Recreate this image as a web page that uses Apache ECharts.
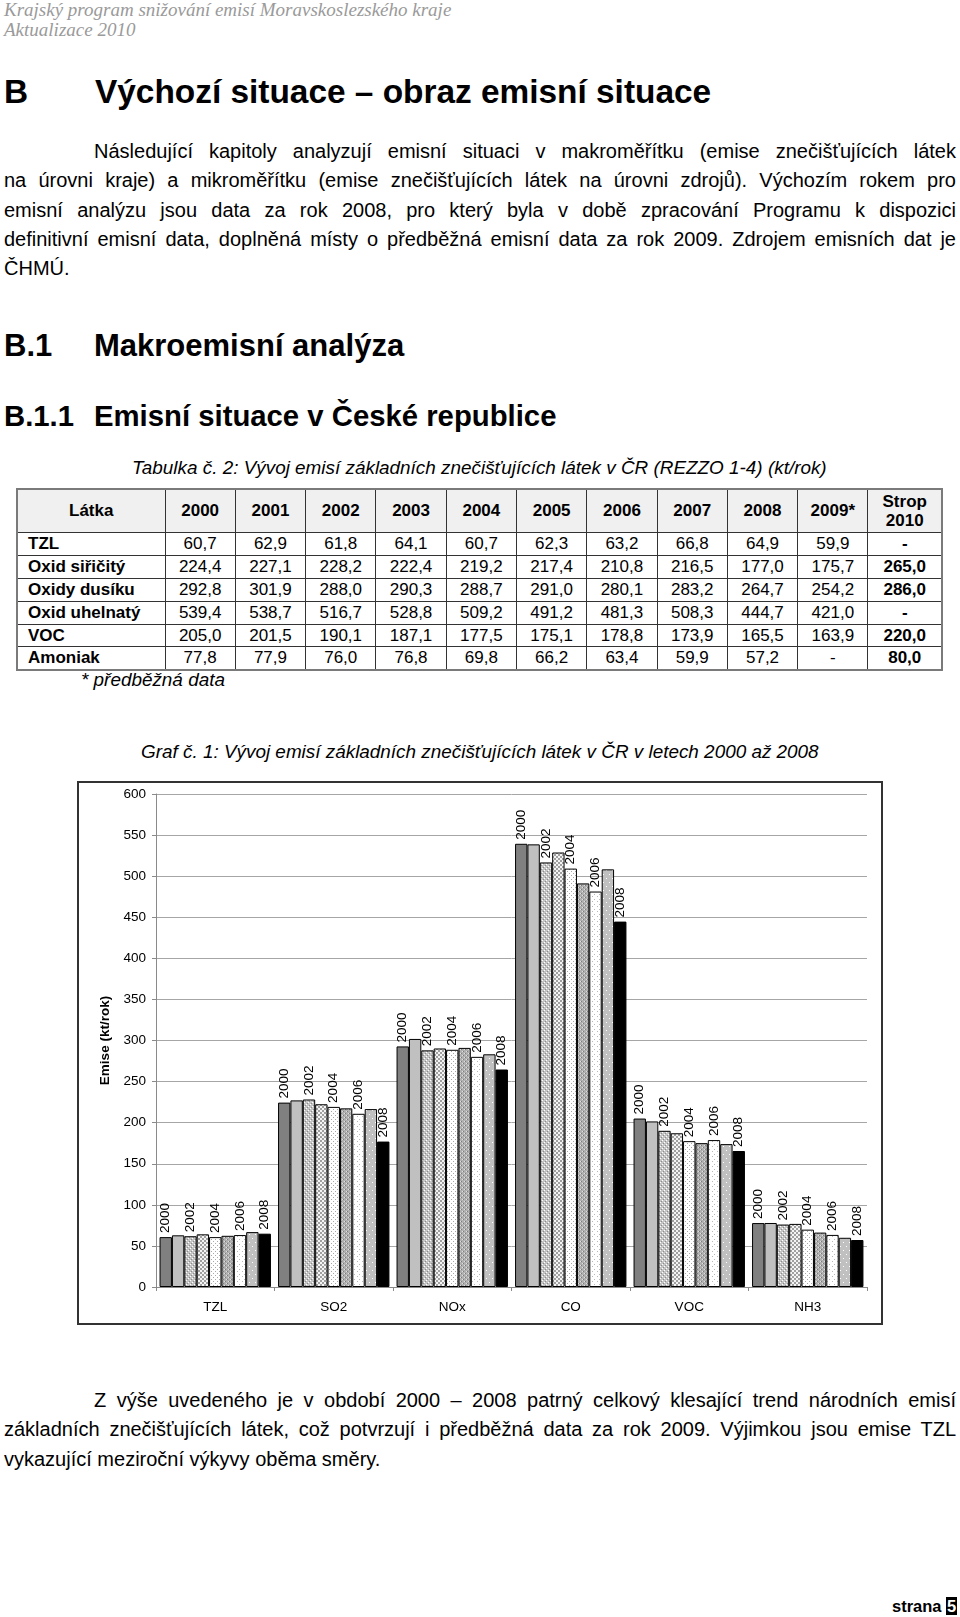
<!DOCTYPE html>
<html lang="cs">
<head>
<meta charset="utf-8">
<script src="https://cdn.jsdelivr.net/npm/echarts@6/dist/echarts.min.js"></script>
<style>
  html, body { margin:0; padding:0; background:#fff; }
  body { width:960px; height:1617px; position:relative; overflow:hidden; font-family:'Liberation Sans', Arial, sans-serif; color:#000; }
  .abs { position:absolute; white-space:nowrap; }
  .hdr { left:4px; top:0; font-family:'Liberation Serif','Times New Roman',serif; font-style:italic; font-size:19px; line-height:20px; color:#9a9a9a; }
  .h1 { font-weight:bold; font-size:33.4px; line-height:38px; }
  .h2 { font-weight:bold; font-size:31px; line-height:34px; }
  .h3 { font-weight:bold; font-size:29.3px; line-height:33px; }
  .para { position:absolute; left:4px; width:952px; font-size:20px; line-height:29.3px; }
  .para div { text-align:justify; text-align-last:justify; white-space:normal; }
  .para div.last { text-align:left; text-align-last:left; }
  .para div.ind { padding-left:90px; }
  .cap { font-style:italic; font-size:18.9px; line-height:22px; }
  table.t { position:absolute; left:16px; top:488px; border-collapse:collapse; border:2px solid #7a7a7a; table-layout:fixed; font-size:17px; }
  table.t td { border:1px solid #333; padding:0; text-align:center; height:21.9px; line-height:20px; overflow:hidden; white-space:nowrap; }
  table.t tr.head td { background:#f0f0f0; font-weight:bold; height:42px; }
  table.t td.name { text-align:left; padding-left:10px; font-weight:bold; }
  table.t td.strop { font-weight:bold; }
  #chart { position:absolute; left:77px; top:781px; width:806px; height:544px; }
</style>
</head>
<body>
<div class="abs hdr">Krajský program snižování emisí Moravskoslezského kraje<br>Aktualizace 2010</div>

<div class="abs h1" style="left:4px; top:73px;">B</div>
<div class="abs h1" style="left:95px; top:73px;">Výchozí situace – obraz emisní situace</div>

<div class="para" style="top:137px;">
  <div class="ind">Následující kapitoly analyzují emisní situaci v makroměřítku (emise znečišťujících látek</div>
  <div>na úrovni kraje) a mikroměřítku (emise znečišťujících látek na úrovni zdrojů). Výchozím rokem pro</div>
  <div>emisní analýzu jsou data za rok 2008, pro který byla v době zpracování Programu k dispozici</div>
  <div>definitivní emisní data, doplněná místy o předběžná emisní data za rok 2009. Zdrojem emisních dat je</div>
  <div class="last">ČHMÚ.</div>
</div>

<div class="abs h2" style="left:4px; top:329px;">B.1</div>
<div class="abs h2" style="left:94px; top:329px;">Makroemisní analýza</div>

<div class="abs h3" style="left:4px; top:399px;">B.1.1</div>
<div class="abs h3" style="left:94px; top:399px;">Emisní situace v České republice</div>

<div class="abs cap" style="left:132px; top:457px;">Tabulka č. 2: Vývoj emisí základních znečišťujících látek v ČR (REZZO 1-4) (kt/rok)</div>

<table class="t" id="tbl"></table>

<div class="abs cap" style="left:81px; top:669px;">* předběžná data</div>

<div class="abs cap" style="left:141px; top:741px;">Graf č. 1: Vývoj emisí základních znečišťujících látek v ČR v letech 2000 až 2008</div>

<div id="chart"></div>

<div class="para" style="top:1386px;">
  <div class="ind">Z výše uvedeného je v období 2000 – 2008 patrný celkový klesající trend národních emisí</div>
  <div>základních znečišťujících látek, což potvrzují i předběžná data za rok 2009. Výjimkou jsou emise TZL</div>
  <div class="last">vykazující meziroční výkyvy oběma směry.</div>
</div>

<div class="abs" style="left:892px; top:1596px; font-weight:bold; font-size:16.5px; line-height:20px;">strana <span style="background:#000; color:#fff; padding:0 1px;">5</span></div>

<script>
// ---------------- DATA ----------------
const tableYears = ['2000','2001','2002','2003','2004','2005','2006','2007','2008','2009*'];
const substanceNames = ['TZL','Oxid siřičitý','Oxidy dusíku','Oxid uhelnatý','VOC','Amoniak'];
const chartCategories = ['TZL','SO2','NOx','CO','VOC','NH3'];
const tzl = [60.7, 62.9, 61.8, 64.1, 60.7, 62.3, 63.2, 66.8, 64.9, 59.9];
const so2 = [224.4, 227.1, 228.2, 222.4, 219.2, 217.4, 210.8, 216.5, 177.0, 175.7];
const nox = [292.8, 301.9, 288.0, 290.3, 288.7, 291.0, 280.1, 283.2, 264.7, 254.2];
const co  = [539.4, 538.7, 516.7, 528.8, 509.2, 491.2, 481.3, 508.3, 444.7, 421.0];
const voc = [205.0, 201.5, 190.1, 187.1, 177.5, 175.1, 178.8, 173.9, 165.5, 163.9];
const nh3 = [77.8, 77.9, 76.0, 76.8, 69.8, 66.2, 63.4, 59.9, 57.2, null];
const strop2010 = [null, 265.0, 286.0, null, 220.0, 80.0];
const chartYears = ['2000','2001','2002','2003','2004','2005','2006','2007','2008'];
const labelledYears = ['2000','2002','2004','2006','2008'];

// ---------------- TABLE ----------------
const rows = [tzl, so2, nox, co, voc, nh3];
const fmt = v => (v === null || v === undefined) ? '-' : v.toFixed(1).replace('.', ',');
(function buildTable(){
  const t = document.getElementById('tbl');
  let html = '<colgroup><col style="width:148px">';
  for (let i = 0; i < tableYears.length; i++) html += '<col style="width:70.3px">';
  html += '<col style="width:74px"></colgroup>';
  html += '<tr class="head"><td>Látka</td>' + tableYears.map(y => '<td>' + y + '</td>').join('') +
          '<td style="line-height:19px">Strop<br>2010</td></tr>';
  rows.forEach((r, i) => {
    html += '<tr><td class="name">' + substanceNames[i] + '</td>' +
      r.map(v => '<td>' + fmt(v) + '</td>').join('') +
      '<td class="strop">' + fmt(strop2010[i]) + '</td></tr>';
  });
  t.innerHTML = html;
})();

// ---------------- PATTERNS ----------------
function pattern(w, h, bg, dots) {
  const c = document.createElement('canvas');
  c.width = w; c.height = h;
  const g = c.getContext('2d');
  g.fillStyle = bg; g.fillRect(0, 0, w, h);
  dots.forEach(d => { g.fillStyle = d[2]; g.fillRect(d[0], d[1], 1, 1); });
  return { image: c, repeat: 'repeat' };
}
function crossHatch() {
  const c = document.createElement('canvas');
  c.width = 4; c.height = 4;
  const g = c.getContext('2d');
  g.fillStyle = '#f4f4f4'; g.fillRect(0, 0, 4, 4);
  g.fillStyle = '#a0a0a0';
  for (let i = 0; i < 4; i++) { g.fillRect(i, i, 1, 1); g.fillRect(3 - i, i, 1, 1); }
  return { image: c, repeat: 'repeat' };
}
const fills = [
  '#808080',
  '#c0c0c0',
  pattern(4, 4, '#c4c4c4', [[0,0,'#8c8c8c'],[2,2,'#8c8c8c'],[1,3,'#ffffff'],[3,1,'#ffffff']]),
  crossHatch(),
  pattern(4, 4, '#ffffff', [[0,0,'#a8a8a8'],[2,2,'#a8a8a8']]),
  pattern(4, 4, '#b0b0b0', [[0,0,'#7c7c7c'],[2,2,'#7c7c7c'],[1,2,'#e0e0e0'],[3,0,'#e0e0e0']]),
  pattern(5, 5, '#ffffff', [[0,0,'#b8b8b8'],[2,3,'#b8b8b8']]),
  pattern(6, 8, '#c0c0c0', [[1,1,'#ffffff'],[4,5,'#ffffff']]),
  '#000000'
];

// ---------------- CHART ----------------
const chart = echarts.init(document.getElementById('chart'), null, { renderer: 'canvas' });
const series = chartYears.map((y, yi) => ({
  name: y,
  type: 'bar',
  barGap: '0%',
  barCategoryGap: '6%',
  data: rows.map(r => r[yi]),
  itemStyle: { color: fills[yi], borderColor: '#000', borderWidth: 1 },
  label: {
    show: labelledYears.indexOf(y) >= 0,
    formatter: y,
    position: 'top',
    rotate: 90,
    align: 'left',
    verticalAlign: 'middle',
    distance: 4,
    fontSize: 13.5,
    fontFamily: 'Liberation Sans, Arial, sans-serif',
    color: '#000'
  },
  silent: true,
  animation: false
}));

chart.setOption({
  animation: false,
  backgroundColor: '#ffffff',
  grid: { left: 79, right: 16, top: 13, bottom: 38 },
  xAxis: {
    type: 'category',
    data: chartCategories,
    axisLine: { show: true, lineStyle: { color: '#8a8a8a', width: 1 } },
    axisTick: { show: true, length: 4, lineStyle: { color: '#8a8a8a' } },
    axisLabel: { fontSize: 13.5, fontFamily: 'Liberation Sans, Arial, sans-serif', color: '#000', margin: 13 }
  },
  yAxis: {
    type: 'value',
    min: 0, max: 600, interval: 50,
    name: 'Emise (kt/rok)',
    nameLocation: 'middle',
    nameGap: 44,
    nameRotate: 90,
    nameTextStyle: { fontSize: 13.5, fontWeight: 'bold', fontFamily: 'Liberation Sans, Arial, sans-serif', color: '#000' },
    axisLine: { show: true, lineStyle: { color: '#8a8a8a', width: 1 } },
    axisTick: { show: true, length: 4, lineStyle: { color: '#8a8a8a' } },
    splitLine: { show: true, lineStyle: { color: '#a6a6a6', width: 1 } },
    axisLabel: { fontSize: 13.5, fontFamily: 'Liberation Sans, Arial, sans-serif', color: '#000', margin: 10 }
  },
  graphic: [{
    type: 'rect',
    shape: { x: 1, y: 1, width: 804, height: 542 },
    style: { fill: 'none', stroke: '#333', lineWidth: 2 },
    silent: true
  }],
  series: series
});
</script>
</body>
</html>
